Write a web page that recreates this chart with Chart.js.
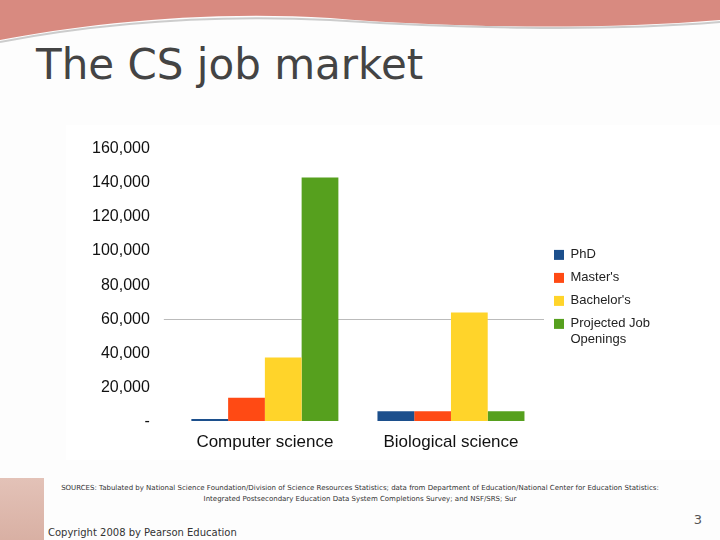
<!DOCTYPE html>
<html>
<head>
<meta charset="utf-8">
<script src="https://cdn.jsdelivr.net/npm/chart.js@4"></script>
<style>
  body { margin: 0; width: 720px; height: 540px; background: #fdfdfd; position: relative; overflow: hidden; font-family: "DejaVu Sans", sans-serif; }
  #title { position: absolute; left: 36px; top: 40px; font-size: 42px; color: #444; }
  #box { position: absolute; left: 66px; top: 125px; width: 654px; height: 335px; background: #fff; }
  #src { position: absolute; left: 0; width: 720px; top: 483px; font-size: 7px; text-align: center; color: #333; line-height: 11px; }
  #copy { position: absolute; left: 48px; top: 527px; font-size: 10px; color: #333; }
  #page { position: absolute; right: 18px; top: 512px; font-size: 13px; color: #555; }
  #bricks { position: absolute; left: 0; top: 478px; width: 44px; height: 62px; background: linear-gradient(#d8a99a, #c98f7d); opacity: 0.7; }
</style>
</head>
<body>
<svg width="720" height="60" style="position:absolute;left:0;top:0">
  <path d="M0 0 H720 V20 C600 30 450 28 330 18 C200 10 80 25 0 40 Z" fill="#d88a80"/>
  <path d="M0 42 C90 25 200 14 330 20 C450 28 600 32 720 22" stroke="#ccc" stroke-width="2" fill="none"/>
</svg>
<div id="title">The CS job market</div>
<div id="box"><canvas id="c" width="654" height="335"></canvas></div>
<div id="src">SOURCES: Tabulated by National Science Foundation/Division of Science Resources Statistics; data from Department of Education/National Center for Education Statistics:<br>Integrated Postsecondary Education Data System Completions Survey; and NSF/SRS; Sur</div>
<div id="bricks"></div>
<div id="copy">Copyright 2008 by Pearson Education</div>
<div id="page">3</div>
<script>
const categories = ['Computer science', 'Biological science'];
const seriesNames = ['PhD', "Master's", "Bachelor's", ['Projected Job', 'Openings']];
const seriesColors = ['#1c4f8c', '#ff4a14', '#ffd42a', '#56a01e'];
const phd = [1500, 6000];
const masters = [14000, 6000];
const bachelors = [37500, 64000];
const jobs = [143000, 6000];
const seriesValues = [phd, masters, bachelors, jobs];

new Chart(document.getElementById('c'), {
  type: 'bar',
  data: {
    labels: categories,
    datasets: seriesValues.map((v, i) => ({
      label: seriesNames[i],
      data: v,
      backgroundColor: seriesColors[i],
      categoryPercentage: 0.79,
      barPercentage: 1.0,
    })),
  },
  options: {
    responsive: false,
    animation: false,
    layout: { padding: { top: 16, right: 60, bottom: 4, left: 12 } },
    scales: {
      x: {
        grid: { display: false },
        border: { display: false },
        ticks: { color: '#111', font: { family: 'Liberation Sans', size: 17 } },
      },
      y: {
        min: 0,
        max: 160000,
        ticks: {
          stepSize: 20000,
          padding: 14,
          color: '#111',
          font: { family: 'Liberation Sans', size: 16 },
          callback: (v) => (v === 0 ? '-' : v.toLocaleString('en-US')),
        },
        grid: { color: (c) => (c.tick.value === 60000 ? '#bbb' : 'transparent') },
        border: { display: false },
      },
    },
    plugins: {
      legend: {
        position: 'right',
        labels: {
          boxWidth: 10,
          boxHeight: 10,
          color: '#222',
          font: { family: 'Liberation Sans', size: 13 },
        },
      },
      tooltip: { enabled: false },
    },
  },
});
</script>
</body>
</html>
